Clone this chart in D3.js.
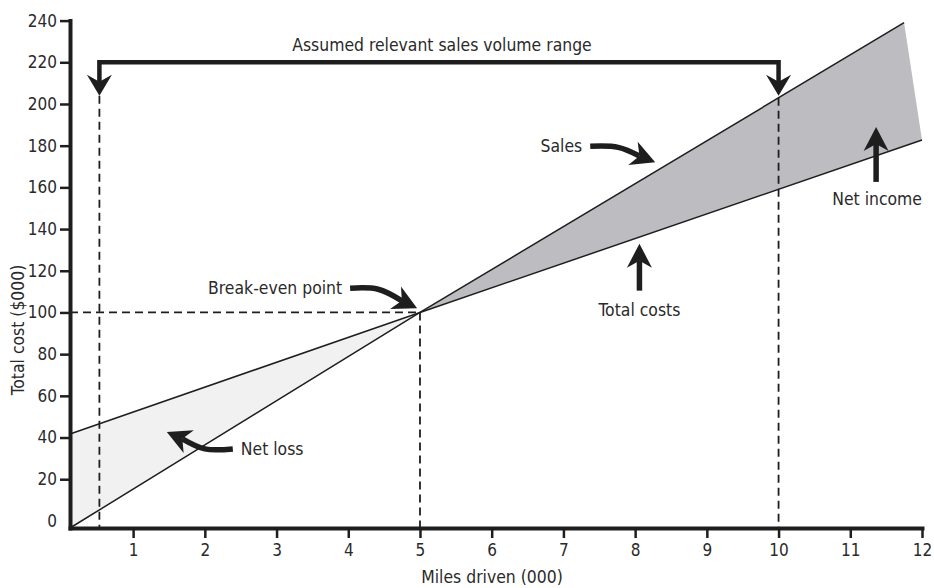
<!DOCTYPE html>
<html><head><meta charset="utf-8">
<script src="https://cdn.jsdelivr.net/npm/d3@7"></script>
<style>
html,body{margin:0;padding:0;background:#fff;}
text{font-family:"DejaVu Sans Condensed","DejaVu Sans",sans-serif;font-stretch:condensed;fill:#2a2a2a;}
</style></head>
<body><svg id="chart" width="934" height="588"></svg>
<script>
// ---- data ----
const xTicks = [1,2,3,4,5,6,7,8,9,10,11,12];
const yTicks = [0,20,40,60,80,100,120,140,160,180,200,220,240];
const salesMiles = [0.12, 5, 11.75];
const salesValues = [-3.4, 100, 239];
const costMiles = [0.12, 5, 12];
const costValues = [41.7, 100, 182.7];
const breakEven = [5, 100];
const rangeMiles = [0.53, 10];
const rangeBracketValue = 220;
const rangeArrowValue = 204;
const salesAt10 = 203;
const xLabel = "Miles driven (000)";
const yLabel = "Total cost ($000)";
const rangeLabel = "Assumed relevant sales volume range";
// annotation tips in data units, label text
const notes = [
  {label:"Break-even point", tip:[4.96,102], path:[[-67,-20],[-39,-19]], anchor:"end",   dx:-8, dy:0},
  {label:"Sales",            tip:[8.28,172], path:[[-65,-16],[-37,-15]], anchor:"end",   dx:-8, dy:0},
  {label:"Total costs",      tip:[8.06,133], path:[[0,47]],              anchor:"middle",dx:0,  dy:19},
  {label:"Net income",       tip:[11.36,189],path:[[0,55]],              anchor:"middle",dx:1,  dy:17},
  {label:"Net loss",         tip:[1.47,42.7],path:[[66,17],[38,17]],     anchor:"start", dx:8,  dy:0}
];

const svg = d3.select("#chart");
const x = d3.scaleLinear().domain([0.12, 12]).range([70, 922]);
const y = d3.scaleLinear().domain([-3.4, 240]).range([528, 20.6]);
const ink = "#1e1e1e";
const fs = 17.4;

const sales = salesMiles.map((m,i)=>[m, salesValues[i]]);
const costs = costMiles.map((m,i)=>[m, costValues[i]]);
const line = d3.line().x(d=>x(d[0])).y(d=>y(d[1]));

// fills
const lossPoly = [costs[0], costs[1], sales[0]];
svg.append("path").attr("d", line(lossPoly)+"Z").attr("fill","#f1f1f1");
const incomePoly = [sales[1], sales[2], costs[2], costs[1]];
svg.append("path").attr("d", line(incomePoly)+"Z").attr("fill","#bdbdc1");

// lines
svg.append("path").attr("d", line(sales)).attr("fill","none").attr("stroke",ink).attr("stroke-width",1.5);
svg.append("path").attr("d", line(costs)).attr("fill","none").attr("stroke",ink).attr("stroke-width",1.5);

// dashed guides
const dash = (p)=>svg.append("path").attr("d", line(p)).attr("fill","none")
  .attr("stroke",ink).attr("stroke-width",1.8).attr("stroke-dasharray","8,5");
dash([[x.domain()[0], breakEven[1]],[breakEven[0], breakEven[1]]]);
dash([[breakEven[0], breakEven[1]],[breakEven[0], y.domain()[0]]]);
dash([[rangeMiles[0], rangeArrowValue],[rangeMiles[0], y.domain()[0]]]);
dash([[rangeMiles[1], salesAt10],[rangeMiles[1], y.domain()[0]]]);

// arrowhead helper
function head(tip, dir, L, W, N){
  const n=[-dir[1], dir[0]];
  const b=[tip[0]-L*dir[0], tip[1]-L*dir[1]];
  return {pts:[tip,[b[0]+W*n[0],b[1]+W*n[1]],[tip[0]-(L-N)*dir[0],tip[1]-(L-N)*dir[1]],[b[0]-W*n[0],b[1]-W*n[1]]],
          neck:[tip[0]-(L-N)*dir[0],tip[1]-(L-N)*dir[1]]};
}
function arrow(pointsPx, L, W, N, sw){
  const tip = pointsPx[pointsPx.length-1], prev = pointsPx[pointsPx.length-2];
  const dx=tip[0]-prev[0], dy=tip[1]-prev[1], len=Math.hypot(dx,dy);
  const h = head(tip,[dx/len,dy/len],L,W,N);
  const shaft = pointsPx.slice(0,-1).concat([h.neck]);
  svg.append("path").attr("d", d3.line().curve(d3.curveCatmullRom)(shaft)).attr("fill","none").attr("stroke",ink)
    .attr("stroke-width",sw).attr("stroke-linejoin","round");
  svg.append("path").attr("d", d3.line()(h.pts)+"Z").attr("fill",ink);
}

// bracket
const bx0=x(rangeMiles[0]), bx1=x(rangeMiles[1]), by=y(rangeBracketValue);
svg.append("path").attr("d", d3.line()([[bx0,y(rangeArrowValue)-10],[bx0,by],[bx1,by],[bx1,y(rangeArrowValue)-10]]))
  .attr("fill","none").attr("stroke",ink).attr("stroke-width",4.5);
[bx0,bx1].forEach(bx=>{
  const h = head([bx, y(rangeArrowValue)],[0,1],21,12.5,7);
  svg.append("path").attr("d", d3.line()(h.pts)+"Z").attr("fill",ink);
});
svg.append("text").attr("x",(bx0+bx1)/2+3).attr("y",by-11).attr("text-anchor","middle")
  .attr("font-size",fs).text(rangeLabel);

// annotations
notes.forEach(nt=>{
  const t=[x(nt.tip[0]), y(nt.tip[1])];
  const pts = nt.path.map(p=>[t[0]+p[0], t[1]+p[1]]).concat([t]);
  arrow(pts, 24, 12.5, 7, 5.5);
  const s = pts[0];
  svg.append("text").attr("x", s[0]+nt.dx).attr("y", s[1]+nt.dy).attr("dy","0.35em")
    .attr("text-anchor", nt.anchor).attr("font-size",fs).text(nt.label);
});

// axes
const xAxis = svg.append("g").attr("transform",`translate(0,${y(y.domain()[0])})`)
  .call(d3.axisBottom(x).tickValues(xTicks).tickSize(10).tickPadding(6).tickSizeOuter(0));
const yAxis = svg.append("g").attr("transform",`translate(${x(x.domain()[0])},0)`)
  .call(d3.axisLeft(y).tickValues(yTicks).tickSize(10).tickPadding(3).tickSizeOuter(0));
[xAxis,yAxis].forEach(g=>{
  g.select(".domain").attr("stroke",ink).attr("stroke-width",4).attr("stroke-linecap","square");
  g.selectAll(".tick line").attr("stroke",ink).attr("stroke-width",2.5);
  g.selectAll(".tick text").attr("fill","#2a2a2a").attr("font-size",17)
    .attr("font-family",'"DejaVu Sans Condensed","DejaVu Sans",sans-serif');
});
yAxis.selectAll(".tick").filter(d=>d===0).select("line").remove();

svg.append("text").attr("x",(x.range()[0]+x.range()[1])/2-4).attr("y",583)
  .attr("text-anchor","middle").attr("font-size",fs).text(xLabel);
svg.append("text").attr("transform",`translate(24,${330}) rotate(-90)`)
  .attr("text-anchor","middle").attr("font-size",fs).text(yLabel);
</script></body></html>
